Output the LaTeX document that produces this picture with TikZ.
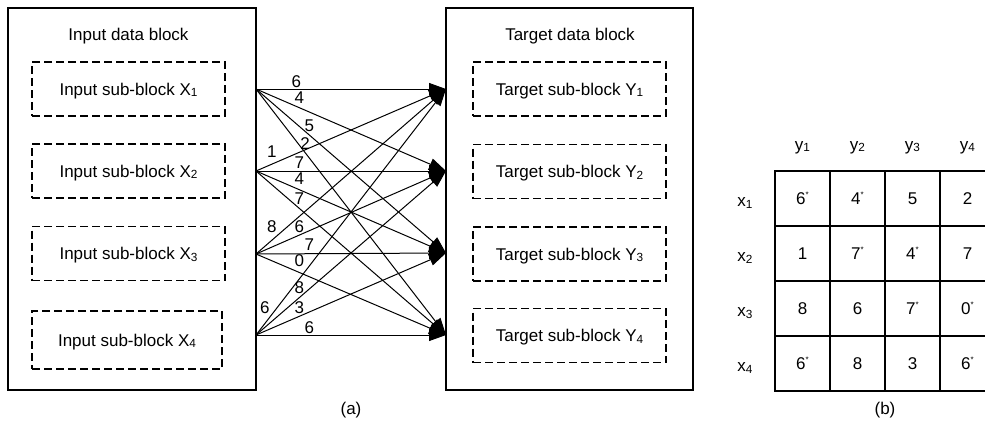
\documentclass[tikz,border=0pt]{standalone}
\usepackage{fontspec}
\setmainfont{Liberation Sans}
\usetikzlibrary{arrows.meta}
\newcommand\lsub[1]{\raisebox{-1.8pt}{\fontsize{11.8}{11.8}\selectfont #1}}
\newcommand\lstar{\raisebox{7pt}{\fontsize{8}{8}\selectfont *}}
\begin{document}
\begin{tikzpicture}[x=1pt,y=-1pt,
  every node/.style={font=\fontsize{17}{19}\selectfont, inner sep=0pt, outer sep=0pt},
  outerbox/.style={draw, line width=1.2pt, anchor=north west},
  subbox/.style={draw, dash pattern=on 8pt off 4pt, line width=1.2pt, minimum width=193pt, minimum height=54pt, text height=12.2pt, text depth=0pt},
  conn/.style={line width=1pt, -{Triangle[length=17pt,width=12pt]}},
  wlabel/.style={text height=12.2pt, text depth=0pt},
  cell/.style={draw, line width=1.5pt, minimum width=55pt, minimum height=55pt, text height=12.2pt, text depth=0pt},
]
\clip (0,0) rectangle (985,421);
\useasboundingbox (0,0) rectangle (985,421);

% (a) outer boxes
\node[outerbox, minimum width=248pt, minimum height=382pt] (inbox) at (8,8) {};
\node[outerbox, minimum width=247pt, minimum height=382pt] (tbox) at (446,8) {};
\node[anchor=base] (intitle) at (128.5,40) {Input data block};
\node[anchor=base] (ttitle) at (570,40) {Target data block};

% sub-blocks
\node[subbox] (X1) at (128.5,89) {Input sub-block X\lsub{1}};
\node[subbox] (X2) at (128.5,171) {Input sub-block X\lsub{2}};
\node[subbox] (X3) at (128.5,253.5) {Input sub-block X\lsub{3}};
\node[subbox, minimum width=190pt, minimum height=58pt] (X4) at (127,340) {Input sub-block X\lsub{4}};
\node[subbox] (Y1) at (569.5,89) {Target sub-block Y\lsub{1}};
\node[subbox] (Y2) at (569.5,171.5) {Target sub-block Y\lsub{2}};
\node[subbox] (Y3) at (569.5,254) {Target sub-block Y\lsub{3}};
\node[subbox] (Y4) at (569.5,335.5) {Target sub-block Y\lsub{4}};

% connector ends
\coordinate (s1) at (inbox.east |- X1);
\coordinate (s2) at (inbox.east |- X2);
\coordinate (s3) at ([yshift=-0.5pt]inbox.east |- X3);
\coordinate (s4) at (256,335);
\coordinate (t1) at (tbox.west |- X1);
\coordinate (t2) at (tbox.west |- X2);
\coordinate (t3) at (446,253);
\coordinate (t4) at (446,335);

% connectors
\draw[conn] (s1) -- node[wlabel,pos=.212,yshift=7.7pt]{6} (t1);
\draw[conn] (s1) -- node[wlabel,pos=.228,yshift=10.5pt]{4} (t2);
\draw[conn] (s1) -- node[wlabel,pos=.281,yshift=9.8pt]{5} (t3);
\draw[conn] (s1) -- node[wlabel,pos=.258,yshift=9.5pt]{2} (t4);
\draw[conn] (s2) -- node[wlabel,pos=.084,yshift=12.8pt]{1} (t1);
\draw[conn] (s2) -- node[wlabel,pos=.228,yshift=8.3pt]{7} (t2);
\draw[conn] (s2) -- node[wlabel,pos=.228,yshift=11pt]{4} (t3);
\draw[conn] (s2) -- node[wlabel,pos=.228,yshift=10.1pt]{7} (t4);
\draw[conn] (s3) -- node[wlabel,pos=.084,yshift=13.5pt]{8} (t1);
\draw[conn] (s3) -- node[wlabel,pos=.228,yshift=8.6pt]{6} (t2);
\draw[conn] (s3) -- node[wlabel,pos=.281,yshift=9.3pt]{7} (t3);
\draw[conn] (s3) -- node[wlabel,pos=.228,yshift=11.7pt]{0} (t4);
\draw[conn] (s4) -- node[wlabel,pos=.046,yshift=16.4pt]{6} (t1);
\draw[conn] (s4) -- node[wlabel,pos=.228,yshift=9.9pt]{8} (t2);
\draw[conn] (s4) -- node[wlabel,pos=.228,yshift=9pt]{3} (t3);
\draw[conn] (s4) -- node[wlabel,pos=.281,yshift=7.7pt]{6} (t4);

\node (capa) at (351,410) {(a)};

% (b) table
\node[anchor=base] (hy1) at (802.5,150) {y\lsub{1}};
\node[anchor=base] (hy2) at (857.5,150) {y\lsub{2}};
\node[anchor=base] (hy3) at (912.5,150) {y\lsub{3}};
\node[anchor=base] (hy4) at (967.5,150) {y\lsub{4}};
\node[anchor=base] (hx1) at (745,206.5) {x\lsub{1}};
\node[anchor=base] (hx2) at (745,261.5) {x\lsub{2}};
\node[anchor=base] (hx3) at (745,316.5) {x\lsub{3}};
\node[anchor=base] (hx4) at (745,371.5) {x\lsub{4}};

\node[cell] (c11) at (802.5,198.5) {6\lstar};
\node[cell] (c12) at (857.5,198.5) {4\lstar};
\node[cell] (c13) at (912.5,198.5) {5};
\node[cell] (c14) at (967.5,198.5) {2};
\node[cell] (c21) at (802.5,253.5) {1};
\node[cell] (c22) at (857.5,253.5) {7\lstar};
\node[cell] (c23) at (912.5,253.5) {4\lstar};
\node[cell] (c24) at (967.5,253.5) {7};
\node[cell] (c31) at (802.5,308.5) {8};
\node[cell] (c32) at (857.5,308.5) {6};
\node[cell] (c33) at (912.5,308.5) {7\lstar};
\node[cell] (c34) at (967.5,308.5) {0\lstar};
\node[cell] (c41) at (802.5,363.5) {6\lstar};
\node[cell] (c42) at (857.5,363.5) {8};
\node[cell] (c43) at (912.5,363.5) {3};
\node[cell] (c44) at (967.5,363.5) {6\lstar};

\node (capb) at (885,410) {(b)};
\end{tikzpicture}
\end{document}
